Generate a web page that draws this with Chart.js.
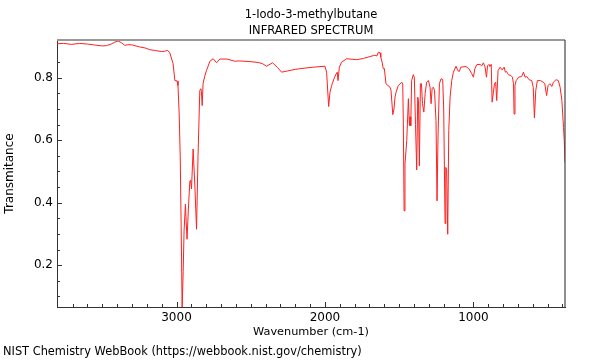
<!DOCTYPE html>
<html><head><meta charset="utf-8">
<script src="https://cdn.jsdelivr.net/npm/chart.js@4/dist/chart.umd.min.js"></script>
<style>html,body{margin:0;padding:0;background:#fff}canvas{display:block}</style>
</head><body>
<canvas id="c" width="600" height="360"></canvas>
<script>
const wavenumbers = [3805,3760,3708,3652,3600,3551,3500,3472,3440,3416,3394,3370,3349,3320,3297,3250,3207,3180,3140,3102,3079,3060,3045,3023,3011,2996,2990,2982,2975,2968,2962,2955,2949,2940,2935,2929,2920,2910,2905,2899,2888,2876,2865,2855,2843,2836,2832,2827,2821,2810,2798,2775,2753,2730,2708,2660,2607,2580,2506,2450,2420,2393,2353,2320,2292,2250,2200,2169,2079,2000,1989,1975,1966,1955,1939,1925,1917,1912,1903,1888,1854,1786,1740,1697,1665,1650,1640,1629,1624,1615,1607,1600,1589,1575,1562,1555,1543,1535,1528,1521,1506,1495,1483,1476,1472,1467,1461,1449,1438,1431,1427,1422,1416,1405,1398,1390,1382,1375,1370,1364,1357,1350,1343,1334,1325,1315,1303,1292,1285,1278,1270,1262,1252,1245,1238,1229,1218,1207,1200,1191,1186,1180,1173,1166,1157,1146,1135,1117,1105,1095,1085,1050,1030,1011,1000,990,977,955,944,933,922,912,905,895,889,880,874,865,858,850,843,834,820,806,793,785,777,764,747,737,730,726,720,712,695,675,663,652,640,625,607,597,589,580,569,548,530,519,507,497,485,472,461,443,428,416,404,393,388,383];
const transmittance = [0.909,0.910,0.907,0.910,0.908,0.905,0.902,0.903,0.908,0.914,0.918,0.912,0.904,0.906,0.905,0.899,0.895,0.890,0.887,0.884,0.885,0.888,0.880,0.845,0.791,0.790,0.775,0.684,0.55,0.30,0.06,0.18,0.310,0.395,0.34,0.283,0.38,0.470,0.472,0.444,0.572,0.45,0.315,0.55,0.759,0.765,0.755,0.711,0.781,0.805,0.823,0.853,0.861,0.848,0.860,0.860,0.853,0.854,0.852,0.849,0.845,0.837,0.848,0.833,0.818,0.822,0.827,0.829,0.834,0.837,0.818,0.708,0.754,0.775,0.797,0.812,0.818,0.791,0.834,0.850,0.861,0.858,0.862,0.868,0.872,0.870,0.882,0.880,0.866,0.85,0.829,0.830,0.781,0.775,0.770,0.760,0.682,0.70,0.738,0.754,0.775,0.780,0.786,0.780,0.652,0.374,0.524,0.599,0.733,0.647,0.675,0.647,0.791,0.810,0.802,0.65,0.505,0.738,0.727,0.518,0.781,0.781,0.717,0.690,0.75,0.786,0.791,0.770,0.717,0.765,0.770,0.760,0.663,0.406,0.62,0.781,0.797,0.795,0.70,0.333,0.513,0.505,0.299,0.631,0.738,0.791,0.818,0.837,0.823,0.820,0.834,0.836,0.829,0.813,0.802,0.829,0.842,0.843,0.838,0.848,0.835,0.802,0.838,0.843,0.836,0.843,0.722,0.754,0.781,0.786,0.727,0.823,0.834,0.825,0.834,0.818,0.820,0.810,0.807,0.802,0.781,0.684,0.775,0.791,0.802,0.804,0.818,0.802,0.804,0.794,0.791,0.770,0.672,0.759,0.791,0.791,0.786,0.781,0.743,0.775,0.781,0.772,0.786,0.794,0.791,0.770,0.727,0.641,0.60,0.529];

const titleLines = ['1-Iodo-3-methylbutane', 'INFRARED SPECTRUM'];
const xAxisTitle = 'Wavenumber (cm-1)';
const yAxisTitle = 'Transmitance';
const creditText = 'NIST Chemistry WebBook (https://webbook.nist.gov/chemistry)';
const xMajorTicks = [1000, 2000, 3000];
const yMajorTicks = [0.2, 0.4, 0.6, 0.8];
const xRange = [383, 3805];
const yRange = [0.066, 0.921];

const xTickValues = [];
for (let v = 400; v <= 3700; v += 100) xTickValues.push(v);
const yTickValues = [];
for (let i = 2; i <= 17; i++) yTickValues.push(Math.round(i * 5) / 100);

const isMajor = (list, v) => list.some(m => Math.abs(m - v) < 1e-6);

Chart.defaults.font.family = "'DejaVu Sans', sans-serif";
Chart.defaults.font.size = 12;
Chart.defaults.color = '#000';

const frameAndTicks = {
  id: 'frameAndTicks',
  afterDraw(chart) {
    const {ctx, chartArea: a, scales: {x, y}} = chart;
    ctx.save();
    ctx.strokeStyle = '#333';
    ctx.lineWidth = 1;
    ctx.beginPath();
    x.ticks.forEach(t => {
      const px = Math.round(x.getPixelForValue(t.value)) + 0.5;
      const len = isMajor(xMajorTicks, t.value) ? 5 : 3;
      ctx.moveTo(px, a.bottom);
      ctx.lineTo(px, a.bottom - len);
    });
    y.ticks.forEach(t => {
      const py = Math.round(y.getPixelForValue(t.value)) + 0.5;
      const len = isMajor(yMajorTicks, t.value) ? 5 : 3;
      ctx.moveTo(a.left, py);
      ctx.lineTo(a.left + len, py);
    });
    ctx.stroke();
    ctx.strokeStyle = '#999';
    ctx.lineWidth = 2;
    ctx.beginPath();
    ctx.moveTo(a.left, a.top);
    ctx.lineTo(a.right, a.top);
    ctx.stroke();
    ctx.strokeStyle = '#444';
    ctx.lineWidth = 1.2;
    ctx.beginPath();
    ctx.moveTo(a.right, a.top);
    ctx.lineTo(a.right, a.bottom);
    ctx.stroke();
    ctx.restore();
  }
};

new Chart(document.getElementById('c'), {
  type: 'line',
  data: {
    datasets: [{
      data: wavenumbers.map((w, i) => ({x: w, y: transmittance[i]})),
      borderColor: '#ff2020',
      borderWidth: 1,
      pointRadius: 0,
      tension: 0,
      fill: false
    }]
  },
  options: {
    responsive: false,
    animation: false,
    devicePixelRatio: 1,
    layout: {padding: {left: 3, right: 35, top: 0, bottom: 0}},
    plugins: {
      legend: {display: false},
      tooltip: {enabled: false},
      title: {
        display: true,
        text: titleLines,
        fullSize: false,
        font: {size: 11.5, weight: 'normal', lineHeight: 1.3913},
        padding: {top: 7, bottom: 1},
        color: '#000'
      },
      subtitle: {
        display: true,
        text: creditText,
        position: 'bottom',
        align: 'start',
        fullSize: true,
        font: {size: 11.4, weight: 'normal', lineHeight: 1.263},
        padding: {top: 0, bottom: 1},
        color: '#000'
      }
    },
    scales: {
      x: {
        type: 'linear',
        reverse: true,
        min: xRange[0],
        max: xRange[1],
        afterBuildTicks: s => { s.ticks = xTickValues.map(v => ({value: v})); },
        afterFit: s => { s.height = 37.6; },
        grid: {display: false, drawTicks: false},
        border: {display: true, color: '#333', width: 1},
        ticks: {
          autoSkip: false, maxRotation: 0, padding: 4,
          callback: v => isMajor(xMajorTicks, v) ? String(v) : ''
        },
        title: {display: true, text: xAxisTitle, padding: {top: 0, bottom: 4.8}, font: {size: 11.3, lineHeight: 1.3}}
      },
      y: {
        type: 'linear',
        min: yRange[0],
        max: yRange[1],
        afterBuildTicks: s => { s.ticks = yTickValues.map(v => ({value: v})); },
        afterFit: s => { s.width = 54; },
        grid: {display: false, drawTicks: false},
        border: {display: true, color: '#333', width: 1},
        ticks: {
          autoSkip: false, padding: 4,
          callback: v => isMajor(yMajorTicks, v) ? v.toFixed(1) : ''
        },
        title: {display: true, text: yAxisTitle, padding: {top: 0, bottom: 0}, font: {size: 12}}
      }
    }
  },
  plugins: [frameAndTicks]
});
</script>
</body></html>
